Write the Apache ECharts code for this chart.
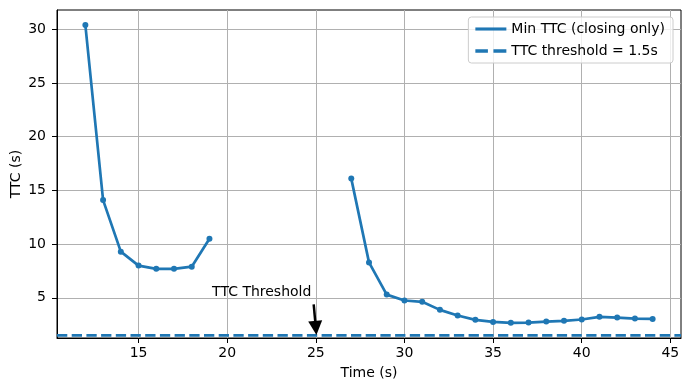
<!DOCTYPE html>
<html>
<head>
<meta charset="utf-8">
<script src="https://cdn.jsdelivr.net/npm/echarts@6/dist/echarts.min.js"></script>
<style>
  html, body { margin: 0; padding: 0; background: #fff; }
  #chart { width: 689px; height: 390px; }
</style>
</head>
<body>
<div id="chart"></div>
<script>
// time (s) and min TTC (s); null = no closing vehicle
var times = [12, 13, 14, 15, 16, 17, 18, 19, 20, 21, 22, 23, 24, 25, 26, 27, 28, 29, 30, 31, 32, 33, 34, 35, 36, 37, 38, 39, 40, 41, 42, 43, 44];
var minTTC = [30.4, 14.1, 9.3, 8.0, 7.7, 7.7, 7.9, 10.5, null, null, null, null, null, null, null, 16.1, 8.3, 5.3, 4.75, 4.63, 3.88, 3.35, 2.95, 2.76, 2.67, 2.7, 2.79, 2.86, 2.98, 3.23, 3.16, 3.07, 3.04];
var threshold = 1.5;
var xTicks = [15, 20, 25, 30, 35, 40, 45];
var yTicks = [5, 10, 15, 20, 25, 30];
var xMin = 10.4, xMax = 45.6;
var yMin = 1.26, yMax = 31.8;

var blue = "#1f77b4";
var font = "DejaVu Sans";

var ttcData = times.map(function(t, i) {
  return [t, minTTC[i]];
});

var chart = echarts.init(document.getElementById("chart"));
chart.setOption({
  animation: false,
  textStyle: { fontFamily: font },
  grid: {
    left: 57, right: 8, top: 10, bottom: 52,
    containLabel: false, outerBoundsMode: "none",
    show: true, borderColor: "#000", borderWidth: 1
  },
  legend: {
    data: [
      { name: "Min TTC (closing only)", icon: "path://M0,0 L28,0 L28,2.8 L0,2.8 Z" },
      { name: "TTC threshold = 1.5s", icon: "path://M0,0 L10,0 L10,2.8 L0,2.8 Z M14.4,0 L24.7,0 L24.7,2.8 L14.4,2.8 Z" }
    ],
    orient: "vertical",
    right: 16, top: 17,
    padding: [5, 8, 5, 7],
    itemGap: 8,
    itemWidth: 31, itemHeight: 14,
    backgroundColor: "rgba(255,255,255,0.8)",
    borderColor: "#cccccc", borderWidth: 1, borderRadius: 3,
    textStyle: { fontSize: 14, color: "#000", fontFamily: font }
  },
  xAxis: {
    type: "value", min: xMin, max: xMax,
    name: "Time (s)", nameLocation: "middle", nameGap: 28, nameMoveOverlap: false,
    nameTextStyle: { fontSize: 14, color: "#000", fontFamily: font },
    axisLine: { onZero: false, lineStyle: { color: "#000" } },
    axisTick: { show: true, length: 5, lineStyle: { color: "#000" }, customValues: xTicks },
    axisLabel: { fontSize: 14, color: "#000", margin: 8, customValues: xTicks },
    splitLine: { show: true, lineStyle: { color: "#b0b0b0", width: 1 } }
  },
  yAxis: {
    type: "value", min: yMin, max: yMax,
    name: "TTC (s)", nameLocation: "middle", nameGap: 34, nameMoveOverlap: false,
    nameTextStyle: { fontSize: 14, color: "#000", fontFamily: font },
    axisLine: { show: true, onZero: false, lineStyle: { color: "#000" } },
    axisTick: { show: true, length: 5, lineStyle: { color: "#000" }, customValues: yTicks },
    axisLabel: { fontSize: 14, color: "#000", margin: 11, customValues: yTicks },
    splitLine: { show: true, lineStyle: { color: "#b0b0b0", width: 1 } }
  },
  series: [
    {
      name: "Min TTC (closing only)",
      type: "line",
      data: ttcData,
      connectNulls: false,
      symbol: "circle", symbolSize: 6, showSymbol: true,
      itemStyle: { color: blue },
      lineStyle: { color: blue, width: 2.7 },
      z: 3
    },
    {
      name: "TTC threshold = 1.5s",
      type: "line",
      data: [[xMin, threshold], [xMax, threshold]],
      symbol: "none",
      itemStyle: { color: blue },
      lineStyle: { color: blue, width: 2.8, type: [10.3, 4.4] },
      z: 2
    },
    {
      name: "annotation",
      type: "scatter",
      data: [[19.15, 5]],
      symbolSize: 0,
      silent: true,
      itemStyle: { opacity: 1, color: "#000" },
      label: {
        show: true, formatter: "TTC Threshold",
        position: [0, 0], align: "left", verticalAlign: "middle", offset: [0, -5],
        fontSize: 14, color: "#000", fontFamily: font
      },
      markLine: {
        silent: true,
        symbol: ["none", "triangle"],
        symbolSize: 14,
        label: { show: false },
        lineStyle: { color: "#000", width: 2.5, type: "solid", opacity: 1 },
        itemStyle: { color: "#000", opacity: 1 },
        data: [[{ coord: [24.88, 4.4] }, { coord: [25, 2.2] }]]
      },
      z: 4
    }
  ]
});
</script>
</body>
</html>
